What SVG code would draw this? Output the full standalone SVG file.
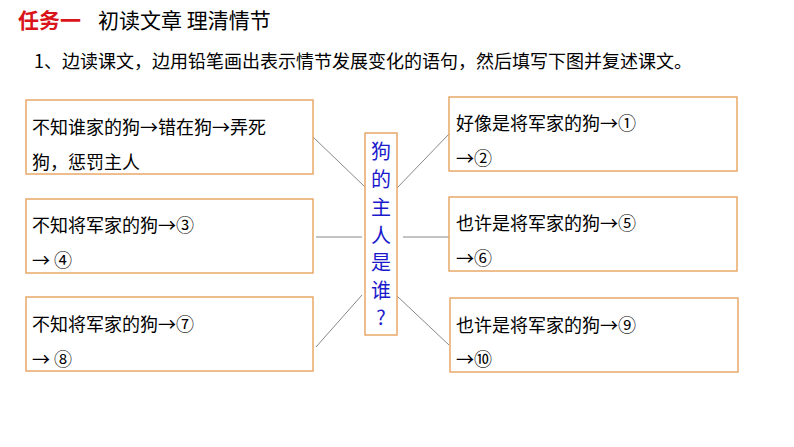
<svg xmlns="http://www.w3.org/2000/svg" width="794" height="447" viewBox="0 0 794 447">
<style>
.t{font-family:"Noto Sans CJK SC","Liberation Serif",serif;font-size:18px;fill:#000}
.b{fill:#fff;stroke:#e8a86a;stroke-width:1.5}
.c{stroke:#888;stroke-width:1;fill:none}
</style>
<rect width="794" height="447" fill="#fff"/>
<text x="18" y="28" font-family="Noto Sans CJK SC,sans-serif" font-size="21" font-weight="bold" fill="#d9141a">任务一</text>
<text x="98" y="28" font-family="Noto Sans CJK SC,sans-serif" font-size="21">初读文章 理清情节</text>
<text x="34" y="68" class="t">1、边读课文，边用铅笔画出表示情节发展变化的语句，然后填写下图并复述课文。</text>
<g id="connectors">
<line class="c" x1="313" y1="137" x2="365" y2="187"/>
<line class="c" x1="316" y1="237" x2="362" y2="237"/>
<line class="c" x1="316" y1="347" x2="362" y2="295"/>
<line class="c" x1="397" y1="188" x2="449" y2="134"/>
<line class="c" x1="403" y1="237" x2="449" y2="237"/>
<line class="c" x1="397" y1="296" x2="449" y2="345"/>
</g>
<g id="center"><rect class="b" x="365" y="133" width="32" height="202"/>
<text font-family="Noto Sans CJK SC,sans-serif" font-size="20" fill="#1a1acc" text-anchor="middle"><tspan x="381" y="159">狗</tspan><tspan x="381" y="187">的</tspan><tspan x="381" y="215">主</tspan><tspan x="381" y="243">人</tspan><tspan x="381" y="270">是</tspan><tspan x="381" y="298">谁</tspan><tspan x="381" y="325">?</tspan></text></g>
<g id="l1"><rect class="b" x="26" y="100" width="287" height="74"/><text class="t" x="32" y="134">不知谁家的狗→错在狗→弄死</text><text class="t" x="32" y="169">狗，惩罚主人</text></g>
<g id="l2"><rect class="b" x="26" y="199" width="287" height="74"/><text class="t" x="32" y="232">不知将军家的狗→③</text><text class="t" x="32" y="267">→ ④</text></g>
<g id="l3"><rect class="b" x="26" y="297" width="287" height="74"/><text class="t" x="32" y="331">不知将军家的狗→⑦</text><text class="t" x="32" y="366">→ ⑧</text></g>
<g id="r1"><rect class="b" x="449" y="97" width="288" height="74"/><text class="t" x="456" y="130">好像是将军家的狗→①</text><text class="t" x="456" y="165">→②</text></g>
<g id="r2"><rect class="b" x="449" y="197" width="288" height="74"/><text class="t" x="456" y="230">也许是将军家的狗→⑤</text><text class="t" x="456" y="265">→⑥</text></g>
<g id="r3"><rect class="b" x="450" y="298" width="288" height="74"/><text class="t" x="456" y="332">也许是将军家的狗→⑨</text><text class="t" x="456" y="366">→⑩</text></g>
</svg>
